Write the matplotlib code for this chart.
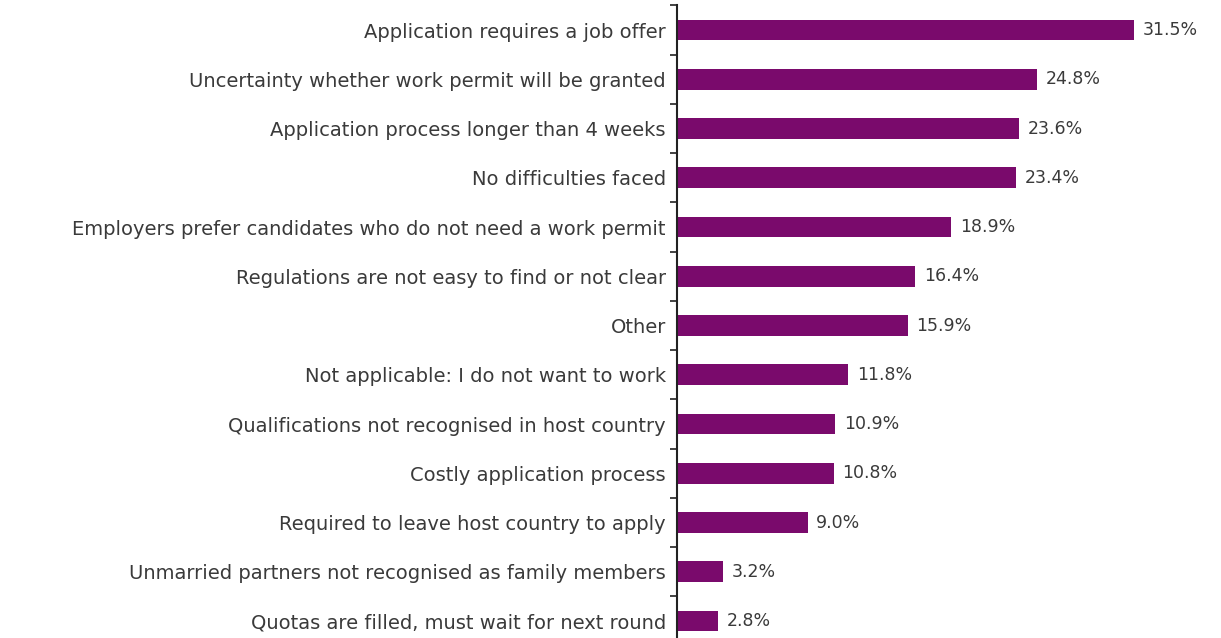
import matplotlib.pyplot as plt
import numpy as np

reasons = [
    "Application requires a job offer",
    "Uncertainty whether work permit will be granted",
    "Application process longer than 4 weeks",
    "No difficulties faced",
    "Employers prefer candidates who do not need a work permit",
    "Regulations are not easy to find or not clear",
    "Other",
    "Not applicable: I do not want to work",
    "Qualifications not recognised in host country",
    "Costly application process",
    "Required to leave host country to apply",
    "Unmarried partners not recognised as family members",
    "Quotas are filled, must wait for next round",
]
shares = [31.5, 24.8, 23.6, 23.4, 18.9, 16.4, 15.9, 11.8, 10.9, 10.8, 9.0, 3.2, 2.8]

bar_color = "#7a0a6c"
text_color = "#3a3a3a"

plt.rcParams["font.family"] = ["DejaVu Sans"]

fig = plt.figure(figsize=(12.21, 6.38), dpi=100)
ax = fig.add_axes([0.5545, -0.012, 0.4455, 1.0035])

y = np.arange(len(reasons))
ax.barh(y, shares, height=0.42, color=bar_color)

# percentage labels just past the end of each bar
for yi, v in zip(y, shares):
    ax.text(v + 0.6, yi, f"{v:.1f}%", va="center", ha="left",
            fontsize=12.5, color=text_color)

ax.set_ylim(len(reasons) - 0.5, -0.5)
ax.set_xlim(0, 37.5)

ax.set_yticks(y)
ax.set_yticklabels(reasons, fontsize=14, color=text_color)
ax.tick_params(axis="y", which="major", length=0, pad=8)
ax.set_yticks(np.arange(-0.5, len(reasons)), minor=True)
ax.tick_params(axis="y", which="minor", length=5, width=1.2, color="#222222")
ax.set_xticks([])

for side in ["top", "right", "bottom"]:
    ax.spines[side].set_visible(False)
ax.spines["left"].set_linewidth(1.5)
ax.spines["left"].set_color("#222222")

fig.savefig("out.png", dpi=100)
